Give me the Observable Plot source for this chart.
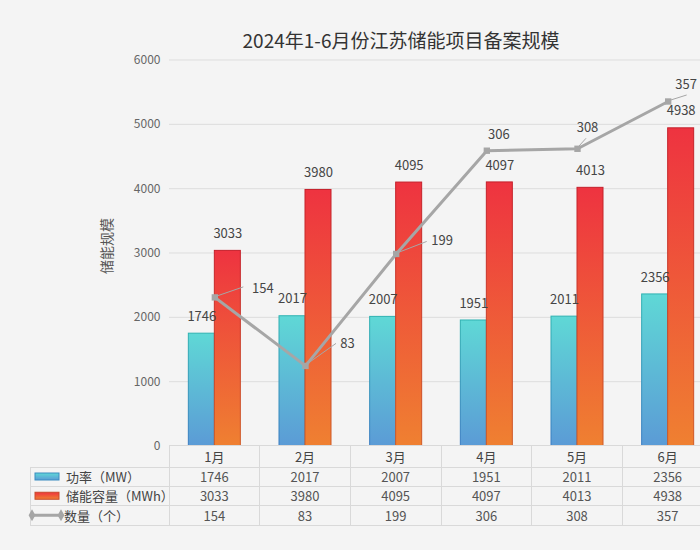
<!DOCTYPE html>
<html><head><meta charset="utf-8">
<script src="https://cdn.jsdelivr.net/npm/d3@7"></script>
<script src="https://cdn.jsdelivr.net/npm/@observablehq/plot@0.6"></script>
<style>
html,body{margin:0;padding:0;background:#f4f4f4;overflow:hidden;width:700px;height:550px}
#wrap{position:relative;width:700px;height:550px;overflow:hidden}
#title{position:absolute;top:27px;left:0;width:802px;text-align:center;font-family:"Noto Sans CJK SC","Noto Sans",sans-serif;font-size:19px;line-height:26px;color:#333;z-index:2}
#chart{position:absolute;top:0;left:0;width:713px}
#chart svg{max-width:none !important}
</style></head><body><div id="wrap"><div id="title">2024年1-6月份江苏储能项目备案规模</div><div id="chart"></div></div>
<script>
const months = ["1月","2月","3月","4月","5月","6月"];
const power = [1746,2017,2007,1951,2011,2356];
const capacity = [3033,3980,4095,4097,4013,4938];
const count = [154,83,199,306,308,357];
const yTicks = [0,1000,2000,3000,4000,5000,6000];
const seriesNames = ["功率（MW）","储能容量（MWh）","数量（个）"];
const yLabel = "储能规模";

// label placement (pixel offsets) for the count labels and their leader lines
const countLabelOffset = [[48,-9],[42,-22],[46,-13],[12,-16],[10,-21],[18,-17]];
const leaderEnd = [[29,-10],[31,-22],[31,-12],null,[9,-10],[19,-6]];

const rows = months.map((m,i)=>({month:m, power:power[i], capacity:capacity[i], count:count[i]}));
const countToY = 6000/400; // hidden secondary axis 0–400 mapped onto 0–6000

const W = 713, H = 550, ML = 169, MT = 59.5, MB = 104.5;
const half = (W-ML)/months.length/2, barW = 26;
const FONT = '"Noto Sans CJK SC","Noto Sans",sans-serif';

const defs = () => {
  const d = d3.create("svg:defs");
  const grad = (id, stops) => {
    const g = d.append("linearGradient").attr("id", id).attr("x1",0).attr("y1",0).attr("x2",0).attr("y2",1);
    stops.forEach(([o,c]) => g.append("stop").attr("offset",o).attr("stop-color",c));
  };
  grad("gPow", [[0,"#5fd8d6"],[1,"#5b9bd6"]]);
  grad("gPowS", [[0,"#2fb2b2"],[1,"#3a7cc2"]]);
  grad("gCap", [[0,"#ee3340"],[1,"#ef8031"]]);
  grad("gCapS", [[0,"#c41f2a"],[1,"#cf5a26"]]);
  return d.node();
};

const labelMarks = rows.map((r,i) => Plot.text([r], {
  x:"month", y:d=>d.count*countToY, text:d=>String(d.count),
  dx: countLabelOffset[i][0], dy: countLabelOffset[i][1],
  fill:"#454545", fontSize:13
}));

const plot = Plot.plot({
  width: W, height: H, marginLeft: ML, marginRight: 0, marginTop: MT, marginBottom: MB,
  style: {background:"transparent", fontFamily: FONT, fontSize:"12px", overflow:"visible", maxWidth:"none"},
  x: {type:"band", domain: months, padding: 0, round: false, axis: null},
  y: {domain:[0,6000], axis: null},
  marks: [
    defs,
    Plot.gridY(yTicks.slice(1), {stroke:"#dddddd", strokeOpacity:1}),
    Plot.axisY(yTicks, {tickSize:0, tickPadding:9, fill:"#666", fontSize:12, label:null, tickFormat:d=>String(d)}),
    Plot.barY(rows, {x:"month", y:"power", fill:"url(#gPow)", stroke:"url(#gPowS)", insetLeft: half-barW, insetRight: half}),
    Plot.barY(rows, {x:"month", y:"capacity", fill:"url(#gCap)", stroke:"url(#gCapS)", insetLeft: half, insetRight: half-barW}),
    Plot.text(rows, {x:"month", y:"power", text:d=>String(d.power), dx:-barW/2, dy:-17, fill:"#454545", fontSize:13}),
    Plot.text(rows, {x:"month", y:"capacity", text:d=>String(d.capacity), dx:barW/2, dy:-17, fill:"#454545", fontSize:13}),
    Plot.line(rows, {x:"month", y:d=>d.count*countToY, stroke:"#a6a6a6", strokeWidth:3}),
    Plot.dot(rows, {x:"month", y:d=>d.count*countToY, symbol:"square", r:3.6, fill:"#a6a6a6"}),
    ...labelMarks
  ]
});
document.getElementById("chart").appendChild(plot);

const xs = plot.scale("x"), ys = plot.scale("y");
const bw = xs.bandwidth;
const svg = d3.select(plot);

// leader lines for count labels
const lg = svg.append("g").attr("stroke","#a6a6a6").attr("stroke-width",1);
rows.forEach((r,i) => {
  if (!leaderEnd[i]) return;
  const cx = xs.apply(r.month) + bw/2, cy = ys.apply(r.count*countToY);
  lg.append("line").attr("x1",cx).attr("y1",cy).attr("x2",cx+leaderEnd[i][0]).attr("y2",cy+leaderEnd[i][1]);
});

// y-axis title
svg.append("text").attr("transform","translate(106,246) rotate(-90)")
  .attr("text-anchor","middle").attr("dominant-baseline","central")
  .attr("font-family",FONT).attr("font-size",14).attr("fill","#555").text(yLabel);

// data table
const tY = [ys.apply(0), 467, 486, 505.5, 525];
const colX = months.map(m => xs.apply(m)).concat([xs.apply(months[months.length-1]) + bw]);
const tg = svg.append("g").attr("font-family",FONT).attr("font-size",13);
const ln = tg.append("g").attr("stroke","#d9d9d9").attr("stroke-width",1).attr("shape-rendering","crispEdges");
ln.append("line").attr("x1",colX[0]).attr("x2",colX[colX.length-1]).attr("y1",tY[0]).attr("y2",tY[0]);
for (let k=1;k<tY.length;k++) ln.append("line").attr("x1",30).attr("x2",colX[colX.length-1]).attr("y1",tY[k]).attr("y2",tY[k]);
colX.forEach(x => ln.append("line").attr("x1",x).attr("x2",x).attr("y1",tY[0]).attr("y2",tY[4]));
ln.append("line").attr("x1",30).attr("x2",30).attr("y1",tY[1]).attr("y2",tY[4]);

const rowVals = [months, power, capacity, count];
rowVals.forEach((vals,k) => {
  vals.forEach((v,i) => {
    tg.append("text").attr("x", xs.apply(months[i]) + bw/2).attr("y",(tY[k]+tY[k+1])/2)
      .attr("text-anchor","middle").attr("dominant-baseline","central")
      .attr("fill", k===0 ? "#444" : "#555").text(String(v));
  });
});
// legend keys in the first column
const ly = [1,2,3].map(k => (tY[k]+tY[k+1])/2);
tg.append("rect").attr("x",35).attr("y",ly[0]-3.5).attr("width",24).attr("height",7).attr("fill","url(#gPow)").attr("stroke","#3a8cc0");
tg.append("rect").attr("x",35).attr("y",ly[1]-3.5).attr("width",24).attr("height",7).attr("fill","url(#gCap)").attr("stroke","#c84a2a");
tg.append("line").attr("x1",32).attr("x2",61).attr("y1",ly[2]).attr("y2",ly[2]).attr("stroke","#a6a6a6").attr("stroke-width",3);
[32,61].forEach(x => tg.append("path").attr("d",d3.symbol(d3.symbolDiamond,40)()).attr("transform",`translate(${x},${ly[2]})`).attr("fill","#a6a6a6"));
seriesNames.forEach((s,k) => tg.append("text").attr("x", k===2 ? 64 : 66).attr("y", ly[k])
  .attr("text-anchor","start").attr("dominant-baseline","central").attr("fill","#444").text(s));
</script>
</body></html>
